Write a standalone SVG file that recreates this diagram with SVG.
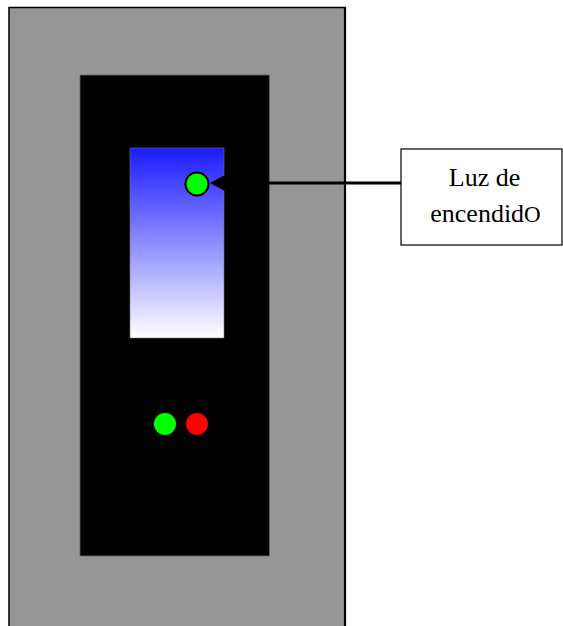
<svg xmlns="http://www.w3.org/2000/svg" width="563" height="626" viewBox="0 0 563 626">
<defs>
<linearGradient id="scr" x1="0" y1="0" x2="0" y2="1">
<stop offset="0" stop-color="#1a1aff"/>
<stop offset="1" stop-color="#ffffff"/>
</linearGradient>
<style>
.lbl{font-family:"Liberation Serif","Times New Roman",serif;font-size:26px;fill:#000;text-anchor:middle}
</style>
</defs>
<rect width="563" height="626" fill="#fff"/>
<g id="housing">
<rect x="9" y="7.5" width="336" height="630" fill="#969696" stroke="#000" stroke-width="1.5"/>
<line x1="345" y1="7" x2="345" y2="626" stroke="#000" stroke-width="2.2"/>
</g>
<g id="panel">
<rect x="80" y="75" width="189.5" height="481" fill="#000" stroke="#666" stroke-width="0.8"/>
</g>
<g id="screen">
<rect x="130" y="148" width="94" height="190" fill="url(#scr)" stroke="#777" stroke-width="0.6"/>
</g>
<g id="power-led">
<circle cx="197" cy="184" r="11.5" fill="#00ff00" stroke="#000" stroke-width="2"/>
</g>
<g id="leds">
<circle cx="165" cy="424" r="11" fill="#00ff00"/>
<circle cx="197" cy="424" r="11" fill="#ff0000"/>
</g>
<g id="connectors">
<line x1="401" y1="183" x2="225" y2="183" stroke="#000" stroke-width="3"/>
<path d="M210,183 L225,175 L225,191 Z" fill="#000"/>
</g>
<g id="label">
<rect x="401" y="149" width="161" height="96" fill="#fff" stroke="#000" stroke-width="1.2"/>
<text class="lbl" x="484.5" y="186" font-size="27">Luz de</text>
<text class="lbl" x="485.5" y="222">encendid<tspan font-size="23">O</tspan></text>
</g>
</svg>
